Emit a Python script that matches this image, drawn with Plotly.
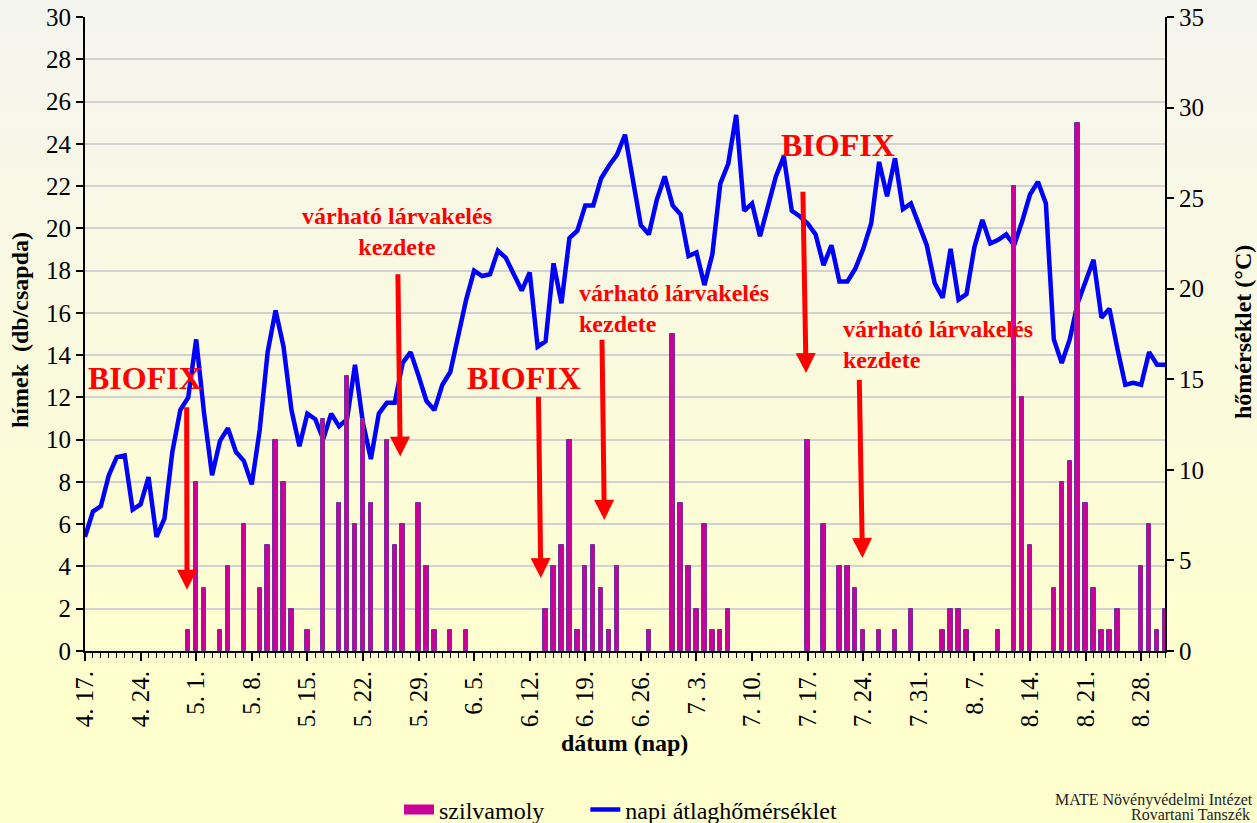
import plotly.graph_objects as go
import pandas as pd

# ---------------- data ----------------
days = [f"{d.month}. {d.day}." for d in pd.date_range("2021-04-17", "2021-08-31")]

tick_labels = ["4. 17.", "4. 24.", "5. 1.", "5. 8.", "5. 15.", "5. 22.", "5. 29.",
               "6. 5.", "6. 12.", "6. 19.", "6. 26.", "7. 3.", "7. 10.", "7. 17.",
               "7. 24.", "7. 31.", "8. 7.", "8. 14.", "8. 21.", "8. 28."]

# daily trap catches (szilvamoly), one value per day 4.17 - 8.31
moths = [
    0, 0, 0, 0, 0, 0, 0,        # 4.17-4.23
    0, 0, 0, 0, 0, 0, 1,        # 4.24-4.30
    8, 3, 0, 1, 4, 0, 6,        # 5.1-5.7
    0, 3, 5, 10, 8, 2, 0,       # 5.8-5.14
    1, 0, 11, 0, 7, 13, 6,      # 5.15-5.21
    11, 7, 0, 10, 5, 6, 0,      # 5.22-5.28
    7, 4, 1, 0, 1, 0, 1,        # 5.29-6.4
    0, 0, 0, 0, 0, 0, 0,        # 6.5-6.11
    0, 0, 2, 4, 5, 10, 1,       # 6.12-6.18
    4, 5, 3, 1, 4, 0, 0,        # 6.19-6.25
    0, 1, 0, 0, 15, 7, 4,       # 6.26-7.2
    2, 6, 1, 1, 2, 0, 0,        # 7.3-7.9
    0, 0, 0, 0, 0, 0, 0,        # 7.10-7.16
    10, 0, 6, 0, 4, 4, 3,       # 7.17-7.23
    1, 0, 1, 0, 1, 0, 2,        # 7.24-7.30
    0, 0, 0, 1, 2, 2, 1,        # 7.31-8.6
    0, 0, 0, 1, 0, 22, 12,      # 8.7-8.13
    5, 0, 0, 3, 8, 9, 25,       # 8.14-8.20
    7, 3, 1, 1, 2, 0, 0,        # 8.21-8.27
    4, 6, 1, 2,                 # 8.28-8.31
]

# daily mean temperature (°C)
temps = [
    6.3, 7.7, 8.0, 9.7, 10.7, 10.8, 7.8,
    8.1, 9.6, 6.3, 7.3, 11.0, 13.3, 14.0,
    17.2, 13.1, 9.7, 11.6, 12.3, 11.0, 10.5,
    9.2, 12.2, 16.5, 18.8, 16.8, 13.3, 11.3,
    13.1, 12.8, 11.7, 13.1, 12.4, 12.8, 15.8,
    12.6, 10.6, 13.1, 13.7, 13.7, 15.9, 16.5,
    15.2, 13.8, 13.3, 14.7, 15.4, 17.3, 19.4,
    21.0, 20.7, 20.8, 22.1, 21.7, 20.8, 19.9,
    20.9, 16.8, 17.1, 21.4, 19.2, 22.8, 23.2,
    24.6, 24.6, 26.1, 26.8, 27.4, 28.5, 26.0,
    23.5, 23.0, 24.9, 26.2, 24.6, 24.1, 21.8,
    22.0, 20.2, 21.9, 25.8, 26.9, 29.6, 24.3,
    24.7, 22.9, 24.6, 26.2, 27.3, 24.3, 24.0,
    23.6, 23.0, 21.3, 22.4, 20.4, 20.4, 21.1,
    22.2, 23.6, 27.0, 25.1, 27.2, 24.4, 24.7,
    23.6, 22.4, 20.3, 19.5, 22.2, 19.4, 19.7,
    22.3, 23.8, 22.5, 22.7, 23.0, 22.4, 23.7,
    25.2, 25.9, 24.7, 17.2, 15.9, 17.2, 19.2,
    20.4, 21.6, 18.4, 18.9, 16.7, 14.7, 14.8,
    14.7, 16.5, 15.8, 15.8,
]

# ---------------- figure ----------------
x = list(range(len(days)))
tickvals = [days.index(t) for t in tick_labels]

FONT = "Liberation Serif, Times New Roman, serif"
RED = "#FF0000"
BAR_FILL = "#CC0099"
BAR_EDGE = "#7030A0"
GAP = "\u00a0" * 6

fig = go.Figure()
# legend entry for the bars (wide magenta swatch like the original)
fig.add_trace(go.Scatter(
    x=[None], y=[None], name="szilvamoly" + GAP, yaxis="y2", mode="lines",
    line=dict(color=BAR_FILL, width=13), hoverinfo="skip",
))
fig.add_trace(go.Bar(
    x=x, y=[v if v else None for v in moths], name="szilvamoly", yaxis="y2",
    width=0.55, showlegend=False,
    marker=dict(color=BAR_FILL, line=dict(color=BAR_EDGE, width=1)),
))
fig.add_trace(go.Scatter(
    x=x, y=temps, name="napi átlaghőmérséklet", yaxis="y", mode="lines",
    line=dict(color="#0000FF", width=4.5),
))

# background gradient (figure-wide) built from thin bands
W, H = 1257, 823
L, R, T, B = 85, 92, 17, 172
ph = H - T - B
pw = W - L - R
shapes = []
N = 70
top_c = (245, 245, 240)
bot_c = (255, 255, 205)
grad_end = 700
for k in range(N):
    py0 = k * grad_end / N
    py1 = (k + 1) * grad_end / N + 1
    f = (k + 0.5) / N
    c = tuple(round(top_c[j] + (bot_c[j] - top_c[j]) * f) for j in range(3))
    shapes.append(dict(
        type="rect", xref="paper", yref="paper", layer="below",
        x0=-L / pw - 0.01, x1=1 + R / pw + 0.01,
        y0=(H - B - py1) / ph, y1=(H - B - py0) / ph,
        line=dict(width=0), fillcolor=f"rgb{c}",
    ))

annotations = []
# red labels
for (tx, ty, txt, anchor) in [
    (7.6, 12.9, "BIOFIX", "center"),
    (55.3, 12.9, "BIOFIX", "center"),
    (94.8, 23.95, "BIOFIX", "center"),
]:
    annotations.append(dict(x=tx, y=ty, xref="x", yref="y2", text=f"<b>{txt}</b>",
                            showarrow=False, font=dict(family=FONT, size=32, color=RED),
                            xanchor=anchor, yanchor="middle"))
for (tx, ty, anchor) in [(39.3, 19.85, "center"), (61.9, 16.2, "left"), (95.2, 14.5, "left")]:
    annotations.append(dict(x=tx, y=ty, xref="x", yref="y2",
                            text="<b>várható lárvakelés<br>kezdete</b>",
                            showarrow=False, align=anchor,
                            font=dict(family=FONT, size=24, color=RED),
                            xanchor=anchor, yanchor="middle"))
# red arrows (tip, tail)
for (x1, y1, x0, y0) in [
    (12.85, 2.9, 12.8, 11.6),
    (39.7, 9.2, 39.4, 17.9),
    (57.4, 3.45, 57.1, 12.1),
    (65.4, 6.2, 65.1, 14.8),
    (90.8, 13.15, 90.4, 21.8),
    (97.9, 4.4, 97.5, 12.9),
]:
    annotations.append(dict(x=x1, y=y1, xref="x", yref="y2", ax=x0, ay=y0,
                            axref="x", ayref="y2", text="", showarrow=True,
                            arrowhead=2, arrowsize=0.8, arrowwidth=5, arrowcolor=RED))

# axis titles and credit
annotations += [
    dict(x=(20 - L) / pw, y=(H - B - 330) / ph, xref="paper", yref="paper",
         text="<b>hímek \u00a0(db/csapda)</b>", textangle=-90, showarrow=False,
         font=dict(family=FONT, size=24, color="black"), xanchor="center", yanchor="middle"),
    dict(x=(1243 - L) / pw, y=(H - B - 332) / ph, xref="paper", yref="paper",
         text="<b>hőmérséklet (°C)</b>", textangle=-90, showarrow=False,
         font=dict(family=FONT, size=24, color="black"), xanchor="center", yanchor="middle"),
    dict(x=(624 - L) / pw, y=(H - B - 743) / ph, xref="paper", yref="paper",
         text="<b>dátum (nap)</b>", showarrow=False,
         font=dict(family=FONT, size=24, color="black"), xanchor="center", yanchor="middle"),
    dict(x=(1255 - L) / pw, y=(H - B - 800) / ph, xref="paper", yref="paper",
         text="MATE Növényvédelmi Intézet", showarrow=False,
         font=dict(family=FONT, size=16, color="#222222"), xanchor="right", yanchor="middle"),
    dict(x=(1190 - L) / pw, y=(H - B - 814) / ph, xref="paper", yref="paper",
         text="Rovartani Tanszék", showarrow=False,
         font=dict(family=FONT, size=16, color="#222222"), xanchor="center", yanchor="middle"),
]

axis_common = dict(showline=True, linecolor="black", linewidth=2, ticks="outside",
                   tickcolor="black", tickwidth=1.5, zeroline=False,
                   tickfont=dict(family=FONT, size=25, color="black"))

fig.update_layout(
    width=W, height=H,
    margin=dict(l=L, r=R, t=T, b=B, autoexpand=False),
    paper_bgcolor="rgb(255,255,205)",
    plot_bgcolor="rgba(0,0,0,0)",
    font=dict(family=FONT, color="black"),
    bargap=0,
    xaxis=dict(range=[0, len(days) - 1], tickmode="array", tickvals=tickvals,
               ticktext=tick_labels, tickangle=-90, ticklen=8, showgrid=False,
               minor=dict(tickvals=x, ticks="outside", ticklen=5, tickcolor="black",
                          tickwidth=1, showgrid=False),
               **axis_common),
    yaxis=dict(range=[0, 35], dtick=5, side="right", ticklen=7, showgrid=False,
               **axis_common),
    yaxis2=dict(range=[0, 30], dtick=2, side="left", overlaying="y", ticklen=7,
                showgrid=True, gridcolor="#D2D2D2", gridwidth=1.5, **axis_common),
    legend=dict(orientation="h", x=(399 - L) / pw, xanchor="left",
                y=(H - B - 810) / ph, yanchor="middle",
                font=dict(family=FONT, size=24, color="black"),
                bgcolor="rgba(0,0,0,0)", traceorder="normal"),
    shapes=shapes,
    annotations=annotations,
    showlegend=True,
)

fig.write_html("out.html", config={"displayModeBar": False})

# remove the default page margin so the figure sits at the window's top-left corner
with open("out.html", "r", encoding="utf-8") as fh:
    html = fh.read()
html = html.replace("<head>", "<head><style>html,body{margin:0;padding:0;overflow:hidden;}</style>", 1)
with open("out.html", "w", encoding="utf-8") as fh:
    fh.write(html)
